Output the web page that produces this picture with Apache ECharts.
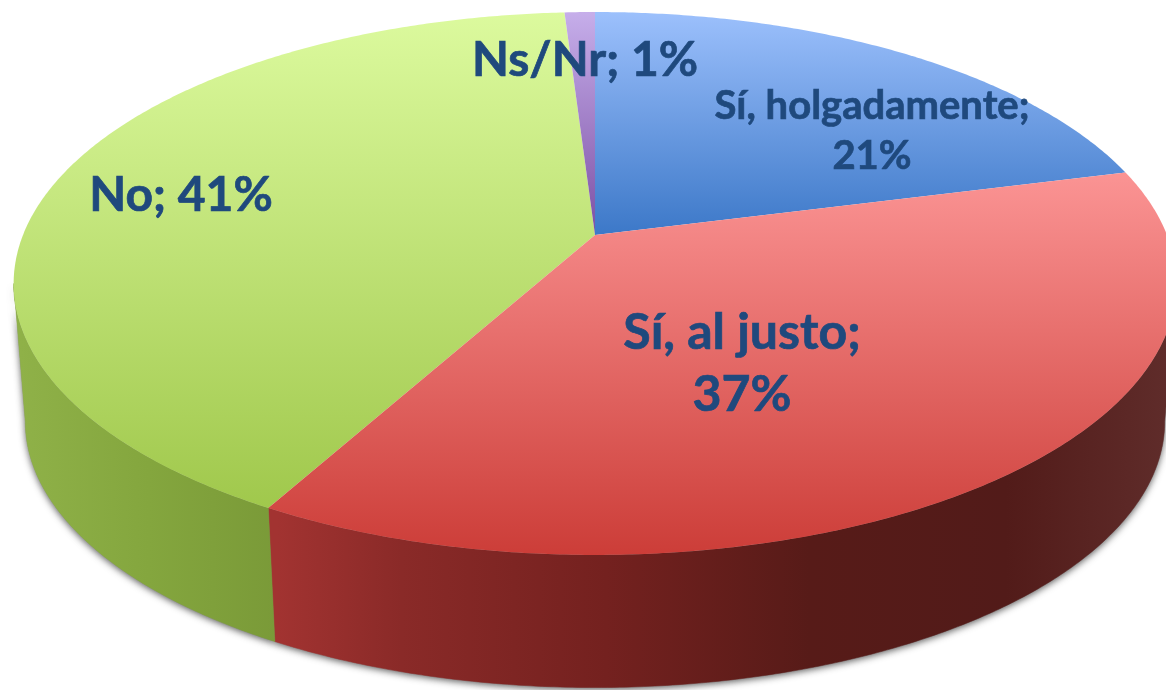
<!DOCTYPE html>
<html><head><meta charset="utf-8">
<style>html,body{margin:0;padding:0;background:#fff}#c{width:1166px;height:690px}</style>
<script src="https://cdn.jsdelivr.net/npm/echarts@6/dist/echarts.min.js"></script>
</head><body><div id="c"></div>
<script>
const categories = ['Sí, holgadamente', 'Sí, al justo', 'No', 'Ns/Nr'];
const shares = [21, 37, 41, 1];
const labelBreaks = [true, true, false, false];

const view = { apexX: 595, apexY: 235, lowerY: 374, halfW: 572, halfH: 262.8, tilt: 0.1786, lowerScale: 0.98 };
const topStops = [
  ['#9cc0fc', '#3c78c8', 12, 235],
  ['#fb9494', '#cc3d38', 172, 555],
  ['#dcfa9e', '#a0c84c', 12, 508],
  ['#c6aeea', '#7c50a4', 12, 235]
];
const wallStops = [
  [[0, '#2f5f9f'], [1, '#2f5f9f']],
  [[0, '#a23331'], [0.14, '#8a2a28'], [0.37, '#74211f'], [0.6, '#571b18'], [0.82, '#521b19'], [1, '#5f2c2a']],
  [[0, '#8fb148'], [0.5, '#84a63e'], [1, '#7a9a38']],
  [[0, '#5f3d85'], [1, '#5f3d85']]
].map(s => s.map(p => ({ offset: p[0], color: p[1] })));
const wallSpan = [[0, 1166], [277, 1166], [20, 277], [0, 1166]];
const labelStyle = [
  { x: 872, y: 131, size: 40, lh: 50 },
  { x: 742, y: 364, size: 50, lh: 62 },
  { x: 181, y: 196, size: 48, lh: 50 },
  { x: 585, y: 61, size: 48, lh: 50 }
];
const total = shares.reduce((a, b) => a + b, 0);
// the wall is only visible between the two points where it folds behind the top face
const foldA = Math.acos(-view.tilt) / (2 * Math.PI), foldB = 1 - foldA;

function project(frac, lower) {
  const t = frac * 2 * Math.PI, u = Math.sin(t), v = -Math.cos(t), w = 1 - view.tilt * v;
  const s = lower ? view.lowerScale : 1;
  return [view.apexX + s * view.halfW * u / w, (lower ? view.lowerY : view.apexY) + s * view.halfH * v / w];
}
function arc(a, b, lower) {
  const n = Math.max(2, Math.ceil((b - a) * 720)), pts = [];
  for (let i = 0; i <= n; i++) pts.push(project(a + (b - a) * i / n, lower));
  return pts;
}
function renderItem(params, api) {
  const i = params.dataIndex, val = api.value(0);
  let before = 0;
  for (let k = 0; k < i; k++) before += shares[k];
  const a = before / total, b = (before + val) / total;
  const G = echarts.graphic.LinearGradient;
  const upper = arc(a, b, false);
  const face = [[view.apexX, view.apexY]].concat(upper);
  const ts = topStops[i], sp = wallSpan[i];
  const txt = categories[i] + ';' + (labelBreaks[i] ? '\n' : ' ') + val + '%';
  const ls = labelStyle[i];
  const children = [
    { type: 'polygon', z2: 3 + (i === 1 ? 1 : 0), shape: { points: face }, style: { fill: new G(0, ts[2], 0, ts[3], [{ offset: 0, color: ts[0] }, { offset: 1, color: ts[1] }], true) } },
    { type: 'text', z2: 10, x: ls.x, y: ls.y, style: { text: txt, fill: '#1f497d', stroke: '#1f497d', lineWidth: 0.7, font: 'bold ' + ls.size + 'px Lato', align: 'center', verticalAlign: 'middle', lineHeight: ls.lh } }
  ];
  const wa = Math.max(a, foldA), wb = Math.min(b, foldB);
  if (wb > wa) {
    const wall = arc(wa, wb, false).concat(arc(wa, wb, true).reverse());
    const wallFill = new G(sp[0], 0, sp[1], 0, wallStops[i], true);
    children.push(
      { type: 'polygon', z2: 1, shape: { points: wall }, style: { fill: '#888', shadowBlur: 7, shadowColor: 'rgba(40,40,40,0.75)', shadowOffsetX: 0, shadowOffsetY: 2 } },
      { type: 'polygon', z2: 2, shape: { points: wall }, style: { fill: wallFill, stroke: wallFill, lineWidth: 0.5 } }
    );
  }
  return { type: 'group', children };
}
const chart = echarts.init(document.getElementById('c'), null, { renderer: 'canvas', width: 1166, height: 690 });
chart.setOption({
  animation: false,
  backgroundColor: '#fff',
  series: [{ type: 'custom', coordinateSystem: 'none', clip: false, renderItem, data: shares.map((v, i) => ({ name: categories[i], value: [v] })) }]
});
</script></body></html>
